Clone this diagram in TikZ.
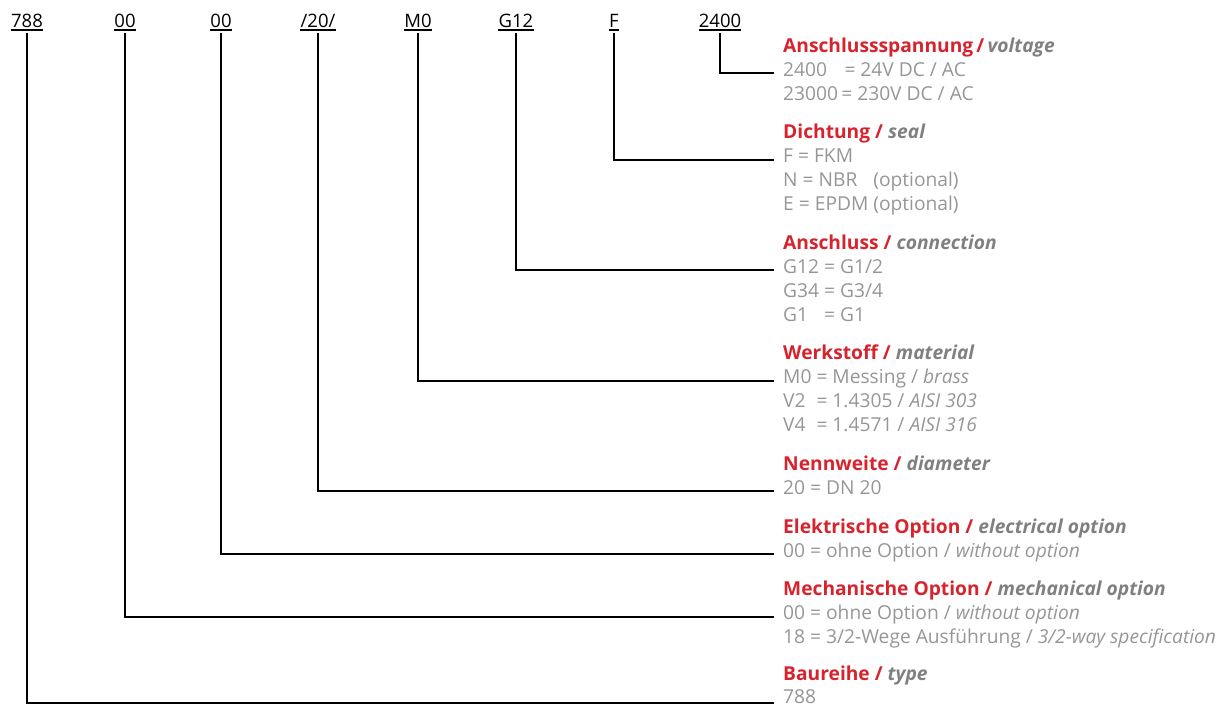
\documentclass[tikz,border=0pt]{standalone}
\usepackage{fontspec}
\setmainfont{Open Sans}
\usepackage{calc}
\definecolor{brandred}{RGB}{215,35,45}
\definecolor{valgrey}{RGB}{150,150,150}
\definecolor{subgrey}{RGB}{128,128,128}
\newcommand{\engsub}[1]{{\color{subgrey}\itshape #1}}
\newcommand{\engit}[1]{{\itshape #1}}
\tikzset{
  codelbl/.style={anchor=base, inner sep=0pt, font=\fontsize{18.5}{20}\selectfont, text=black},
  titlelbl/.style={anchor=base west, inner sep=0pt, font=\fontsize{19.2}{21}\selectfont\bfseries, text=brandred},
  vallbl/.style={anchor=base west, inner sep=0pt, font=\fontsize{19.2}{21}\selectfont, text=valgrey},
  conn/.style={line width=2pt, black},
  uline/.style={line width=1.3pt, black},
}
\begin{document}
\begin{tikzpicture}[x=1pt,y=-1pt]
\useasboundingbox (0,0) rectangle (1230,707);
% code labels
\node[codelbl] (c1) at (27,27) {788};
\node[codelbl] (c2) at (125,27) {00};
\node[codelbl] (c3) at (221,27) {00};
\node[codelbl] (c4) at (318,27) {/20/};
\node[codelbl] (c5) at (418,27) {M0};
\node[codelbl] (c6) at (516,27) {G12};
\node[codelbl] (c7) at (614,27) {F};
\node[codelbl] (c8) at (720,27) {2400};
\foreach \c in {c1,c2,c3,c4,c5,c6,c7,c8}
  \draw[uline] ([yshift=-3pt]\c.base west) -- ([yshift=-3pt]\c.base east);
% blocks
\def\tx{783}
\node[titlelbl] (t1) at (\tx,52) {Anschlussspannung\,/\,\engsub{voltage}};
\node[vallbl] (v1a) at (\tx,76) {\makebox[\widthof{23000}][l]{2400}\,\,= 24V DC / AC};
\node[vallbl] (v1b) at (\tx,100) {23000\,= 230V DC / AC};

\node[titlelbl] (t2) at (\tx,138.6) {Dichtung / \engsub{seal}};
\node[vallbl] (v2a) at (\tx,162.6) {F = FKM};
\node[vallbl] (v2b) at (\tx,186.6) {\makebox[\widthof{E = EPDM }][l]{N = NBR}(optional)};
\node[vallbl] (v2c) at (\tx,210.6) {E = EPDM (optional)};

\node[titlelbl] (t3) at (\tx,249.2) {Anschluss / \engsub{connection}};
\node[vallbl] (v3a) at (\tx,273.2) {G12 = G1/2};
\node[vallbl] (v3b) at (\tx,297.2) {G34 = G3/4};
\node[vallbl] (v3c) at (\tx,321.2) {\makebox[\widthof{G12 }][l]{G1}= G1};

\node[titlelbl] (t4) at (\tx,359.8) {Werkstoff / \engsub{material}};
\node[vallbl] (v4a) at (\tx,383.8) {M0 = Messing / \engit{brass}};
\node[vallbl] (v4b) at (\tx,407.8) {\makebox[\widthof{M0 }][l]{V2}= 1.4305 / \engit{AISI 303}};
\node[vallbl] (v4c) at (\tx,431.8) {\makebox[\widthof{M0 }][l]{V4}= 1.4571 / \engit{AISI 316}};

\node[titlelbl] (t5) at (\tx,470.4) {Nennweite / \engsub{diameter}};
\node[vallbl] (v5a) at (\tx,494.4) {20 = DN 20};

\node[titlelbl] (t6) at (\tx,533) {Elektrische Option / \engsub{electrical option}};
\node[vallbl] (v6a) at (\tx,557) {00 = ohne Option / \engit{without option}};

\node[titlelbl] (t7) at (\tx,595.6) {Mechanische Option / \engsub{mechanical option}};
\node[vallbl] (v7a) at (\tx,619.6) {00 = ohne Option / \engit{without option}};
\node[vallbl] (v7b) at (\tx,643.6) {18 = 3/2-Wege Ausführung / \engit{3/2-way specification}};

\node[titlelbl] (t8) at (\tx,680.5) {Baureihe / \engsub{type}};
\node[vallbl] (v8a) at (\tx,703.5) {788};
% connectors
\draw[conn] ([yshift=-6pt]c8.base) |- ([xshift=-9pt,yshift=3pt]v1a.base west);
\draw[conn] ([yshift=-6pt]c7.base) |- ([xshift=-9pt,yshift=3pt]v2a.base west);
\draw[conn] ([yshift=-6pt]c6.base) |- ([xshift=-9pt,yshift=3pt]v3a.base west);
\draw[conn] ([yshift=-6pt]c5.base) |- ([xshift=-9pt,yshift=3pt]v4a.base west);
\draw[conn] ([yshift=-6pt]c4.base) |- ([xshift=-9pt,yshift=3pt]v5a.base west);
\draw[conn] ([yshift=-6pt]c3.base) |- ([xshift=-9pt,yshift=3pt]v6a.base west);
\draw[conn] ([yshift=-6pt]c2.base) |- ([xshift=-9pt,yshift=3pt]v7a.base west);
\draw[conn] ([yshift=-6pt]c1.base) |- ([xshift=-9pt,yshift=0.5pt]v8a.base west);
\end{tikzpicture}
\end{document}
